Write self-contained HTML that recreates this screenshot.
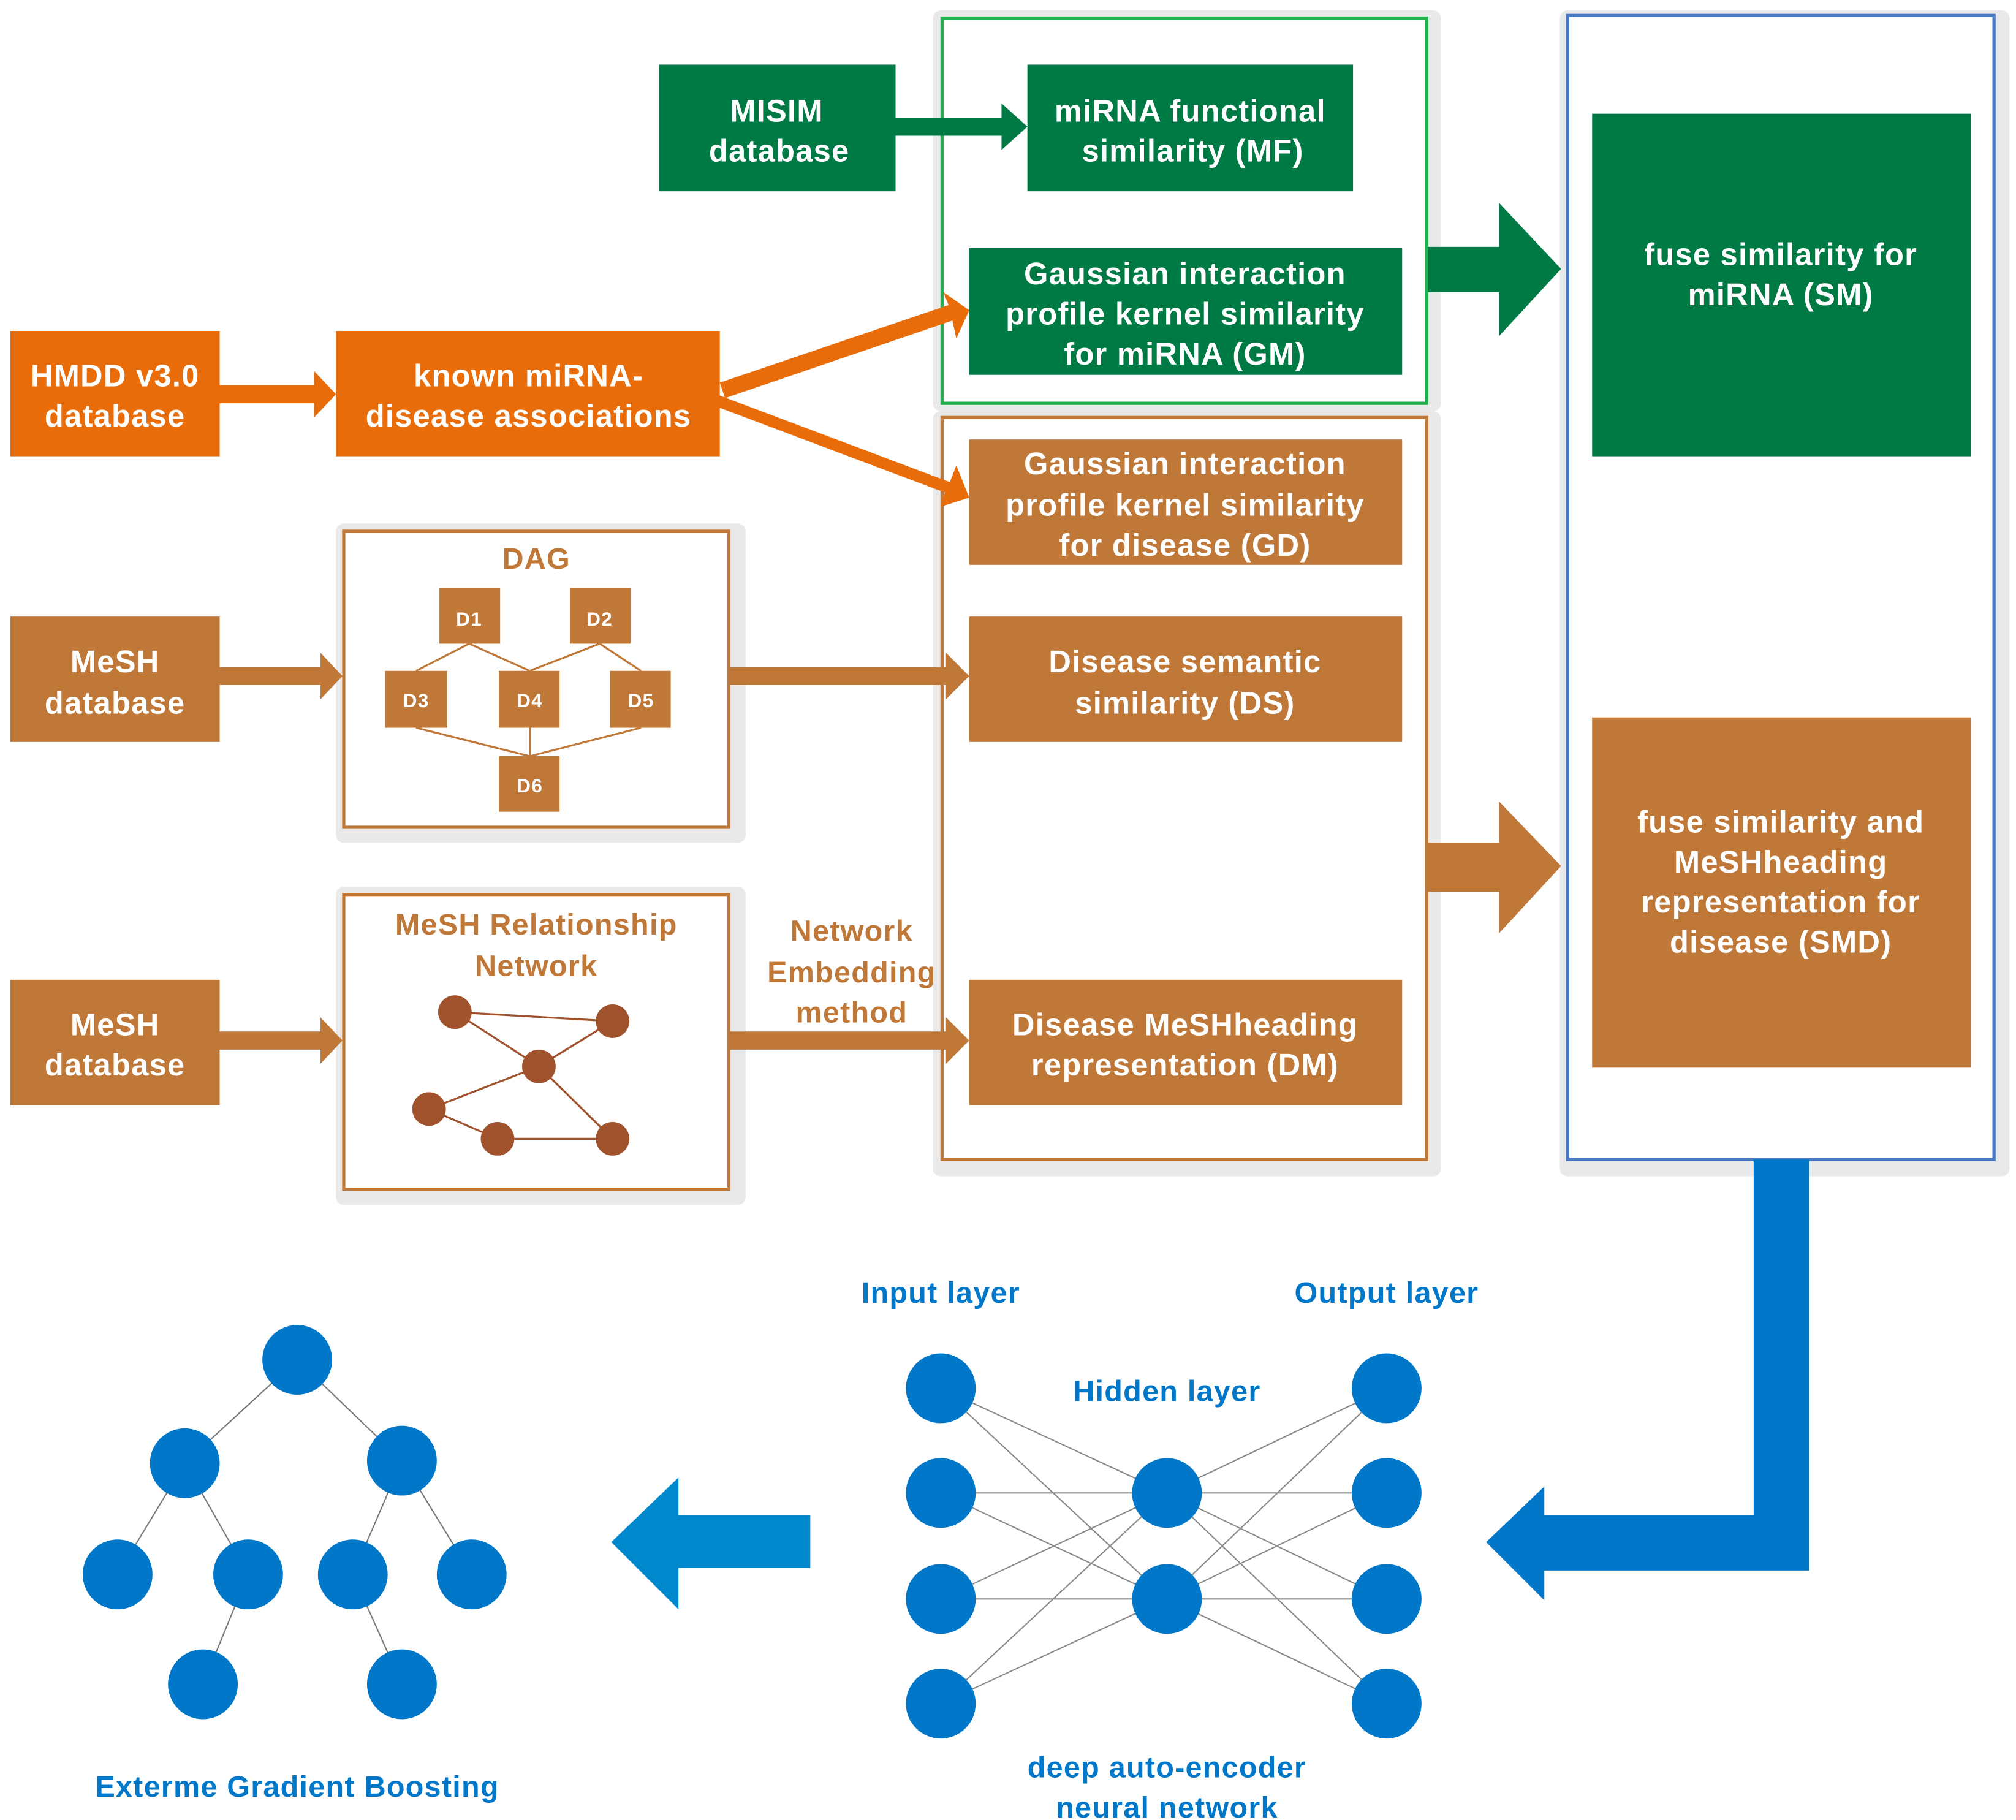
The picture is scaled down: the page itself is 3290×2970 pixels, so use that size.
<!DOCTYPE html>
<html><head><meta charset="utf-8"><style>
html,body{margin:0;padding:0;background:#fff;}
svg{display:block;}
text{font-family:"Liberation Sans",sans-serif;font-weight:bold;letter-spacing:0.6px;}
</style></head><body>
<svg width="3290" height="2970" viewBox="0 0 1560 1408" preserveAspectRatio="none" xmlns="http://www.w3.org/2000/svg">
<rect width="1560" height="1408" fill="#fff"/>
<rect x="722" y="8" width="393" height="310" rx="6" fill="#e9e9e9"/>
<rect x="729" y="14" width="375" height="298" fill="#fff" stroke="#22b14c" stroke-width="2.5"/>
<rect x="722" y="318" width="393" height="592" rx="6" fill="#e9e9e9"/>
<rect x="729" y="323" width="375" height="574" fill="#fff" stroke="#c07838" stroke-width="2.5"/>
<rect x="1207" y="8" width="348" height="902" rx="6" fill="#e9e9e9"/>
<rect x="1213" y="12" width="330" height="885" fill="#fff" stroke="#4a78c0" stroke-width="2.5"/>
<rect x="260" y="405" width="317" height="247" rx="6" fill="#e9e9e9"/>
<rect x="266" y="411" width="298" height="229" fill="#fff" stroke="#c07838" stroke-width="2.5"/>
<rect x="260" y="686" width="317" height="246" rx="6" fill="#e9e9e9"/>
<rect x="266" y="692" width="298" height="228" fill="#fff" stroke="#c07838" stroke-width="2.5"/>

<g text-anchor="middle" font-size="24" fill="#fff">
<rect x="510" y="50" width="183" height="98" fill="#007a45"/>
<text x="601" y="94">MISIM</text><text x="603" y="125">database</text>
<rect x="795" y="50" width="252" height="98" fill="#007a45"/>
<text x="921" y="94">miRNA functional</text><text x="923" y="125">similarity (MF)</text>
<rect x="750" y="192" width="335" height="98" fill="#007a45"/>
<text x="917" y="220">Gaussian interaction</text><text x="917" y="251">profile kernel similarity</text><text x="917" y="282">for miRNA (GM)</text>
<rect x="1232" y="88" width="293" height="265" fill="#007a45"/>
<text x="1378" y="205">fuse similarity for</text><text x="1378" y="236">miRNA (SM)</text>
<rect x="8" y="256" width="162" height="97" fill="#e86c0a"/>
<text x="89" y="299">HMDD v3.0</text><text x="89" y="330">database</text>
<rect x="260" y="256" width="297" height="97" fill="#e86c0a"/>
<text x="409" y="299">known miRNA-</text><text x="409" y="330">disease associations</text>
<rect x="750" y="340" width="335" height="97" fill="#c07838"/>
<text x="917" y="367">Gaussian interaction</text><text x="917" y="399">profile kernel similarity</text><text x="917" y="430">for disease (GD)</text>
<rect x="750" y="477" width="335" height="97" fill="#c07838"/>
<text x="917" y="520">Disease semantic</text><text x="917" y="552">similarity (DS)</text>
<rect x="750" y="758" width="335" height="97" fill="#c07838"/>
<text x="917" y="801">Disease MeSHheading</text><text x="917" y="832">representation (DM)</text>
<rect x="1232" y="555" width="293" height="271" fill="#c07838"/>
<text x="1378" y="644">fuse similarity and</text><text x="1378" y="675">MeSHheading</text><text x="1378" y="706">representation for</text><text x="1378" y="737">disease (SMD)</text>
<rect x="8" y="477" width="162" height="97" fill="#c07838"/>
<text x="89" y="520">MeSH</text><text x="89" y="552">database</text>
<rect x="8" y="758" width="162" height="97" fill="#c07838"/>
<text x="89" y="801">MeSH</text><text x="89" y="832">database</text>
</g>

<g fill="#007a45">
<polygon points="693,91 775,91 775,80 795,98 775,116 775,105 693,105"/>
<polygon points="1105,191 1160,191 1160,157 1208,208 1160,260 1160,226 1105,226"/>
</g>
<g fill="#c07838">
<polygon points="1105,652 1160,652 1160,620 1208,670 1160,722 1160,690 1105,690"/>
<polygon points="170,516 248,516 248,505 265,523 248,541 248,530 170,530"/>
<polygon points="564,516 732,516 732,505 750,523 732,541 732,530 564,530"/>
<polygon points="170,798 248,798 248,787 265,805 248,823 248,812 170,812"/>
<polygon points="564,798 732,798 732,787 750,805 732,823 732,812 564,812"/>
</g>
<g fill="#e86c0a">
<polygon points="170,298 243,298 243,287 260,305 243,323 243,312 170,312"/>
<polygon points="557,296 734,236 730,226 750,240 740,262 737,248 561,308"/>
<polygon points="557,306 735,373 740,360 750,385 728,392 731,381 553,314"/>
</g>

<g stroke="#c07838" stroke-width="1.5">
<line x1="363" y1="498" x2="322" y2="519"/><line x1="363" y1="498" x2="410" y2="519"/>
<line x1="464" y1="498" x2="410" y2="519"/><line x1="464" y1="498" x2="496" y2="519"/>
<line x1="322" y1="563" x2="410" y2="585"/><line x1="410" y1="563" x2="410" y2="585"/><line x1="496" y1="563" x2="410" y2="585"/>
</g>
<text x="415" y="440" text-anchor="middle" font-size="23" fill="#c07838">DAG</text>
<g fill="#c07838"><rect x="340" y="455" width="47" height="43"/><rect x="441" y="455" width="47" height="43"/><rect x="298" y="519" width="48" height="44"/><rect x="386" y="519" width="47" height="44"/><rect x="472" y="519" width="47" height="44"/><rect x="386" y="585" width="47" height="43"/></g>
<g fill="#fff" font-size="15" text-anchor="middle"><text x="363" y="484">D1</text><text x="464" y="484">D2</text><text x="322" y="547">D3</text><text x="410" y="547">D4</text><text x="496" y="547">D5</text><text x="410" y="613">D6</text></g>

<text x="415" y="723" text-anchor="middle" font-size="23" fill="#c07838">MeSH Relationship</text>
<text x="415" y="755" text-anchor="middle" font-size="23" fill="#c07838">Network</text>
<g stroke="#a0522d" stroke-width="1.5">
<line x1="352" y1="783" x2="474" y2="790"/><line x1="352" y1="783" x2="417" y2="825"/><line x1="474" y1="790" x2="417" y2="825"/>
<line x1="417" y1="825" x2="332" y2="858"/><line x1="417" y1="825" x2="474" y2="881"/><line x1="332" y1="858" x2="385" y2="881"/><line x1="385" y1="881" x2="474" y2="881"/>
</g>
<g fill="#a0522d"><circle cx="352" cy="783" r="13"/><circle cx="474" cy="790" r="13"/><circle cx="417" cy="825" r="13"/><circle cx="332" cy="858" r="13"/><circle cx="385" cy="881" r="13"/><circle cx="474" cy="881" r="13"/></g>
<g text-anchor="middle" font-size="23" fill="#c07838"><text x="659" y="728">Network</text><text x="659" y="760">Embedding</text><text x="659" y="791">method</text></g>

<polygon fill="#0077c8" points="1357,897 1400,897 1400,1215 1195,1215 1195,1238 1150,1193 1195,1150 1195,1172 1357,1172"/>
<polygon fill="#0088cc" points="627,1172 525,1172 525,1143 473,1193 525,1245 525,1213 627,1213"/>

<g stroke="#888" stroke-width="1">
<line x1="728" y1="1074" x2="903" y2="1155"/><line x1="728" y1="1074" x2="903" y2="1237"/>
<line x1="728" y1="1155" x2="903" y2="1155"/><line x1="728" y1="1155" x2="903" y2="1237"/>
<line x1="728" y1="1237" x2="903" y2="1155"/><line x1="728" y1="1237" x2="903" y2="1237"/>
<line x1="728" y1="1318" x2="903" y2="1155"/><line x1="728" y1="1318" x2="903" y2="1237"/>
<line x1="1073" y1="1074" x2="903" y2="1155"/><line x1="1073" y1="1074" x2="903" y2="1237"/>
<line x1="1073" y1="1155" x2="903" y2="1155"/><line x1="1073" y1="1155" x2="903" y2="1237"/>
<line x1="1073" y1="1237" x2="903" y2="1155"/><line x1="1073" y1="1237" x2="903" y2="1237"/>
<line x1="1073" y1="1318" x2="903" y2="1155"/><line x1="1073" y1="1318" x2="903" y2="1237"/>
</g>
<g fill="#0077c8">
<circle cx="728" cy="1074" r="27"/><circle cx="728" cy="1155" r="27"/><circle cx="728" cy="1237" r="27"/><circle cx="728" cy="1318" r="27"/>
<circle cx="903" cy="1155" r="27"/><circle cx="903" cy="1237" r="27"/>
<circle cx="1073" cy="1074" r="27"/><circle cx="1073" cy="1155" r="27"/><circle cx="1073" cy="1237" r="27"/><circle cx="1073" cy="1318" r="27"/>
</g>
<g text-anchor="middle" font-size="23" fill="#0077c8">
<text x="728" y="1008">Input layer</text><text x="1073" y="1008">Output layer</text><text x="903" y="1084">Hidden layer</text>
<text x="903" y="1375">deep auto-encoder</text><text x="903" y="1406">neural network</text>
<text x="230" y="1390">Exterme Gradient Boosting</text>
</g>

<g stroke="#777" stroke-width="1">
<line x1="230" y1="1052" x2="143" y2="1132"/><line x1="230" y1="1052" x2="311" y2="1130"/>
<line x1="143" y1="1132" x2="91" y2="1218"/><line x1="143" y1="1132" x2="192" y2="1218"/>
<line x1="311" y1="1130" x2="273" y2="1218"/><line x1="311" y1="1130" x2="365" y2="1218"/>
<line x1="192" y1="1218" x2="157" y2="1303"/><line x1="273" y1="1218" x2="311" y2="1303"/>
</g>
<g fill="#0077c8">
<circle cx="230" cy="1052" r="27"/><circle cx="143" cy="1132" r="27"/><circle cx="311" cy="1130" r="27"/>
<circle cx="91" cy="1218" r="27"/><circle cx="192" cy="1218" r="27"/><circle cx="273" cy="1218" r="27"/><circle cx="365" cy="1218" r="27"/>
<circle cx="157" cy="1303" r="27"/><circle cx="311" cy="1303" r="27"/>
</g>
</svg>
</body></html>
